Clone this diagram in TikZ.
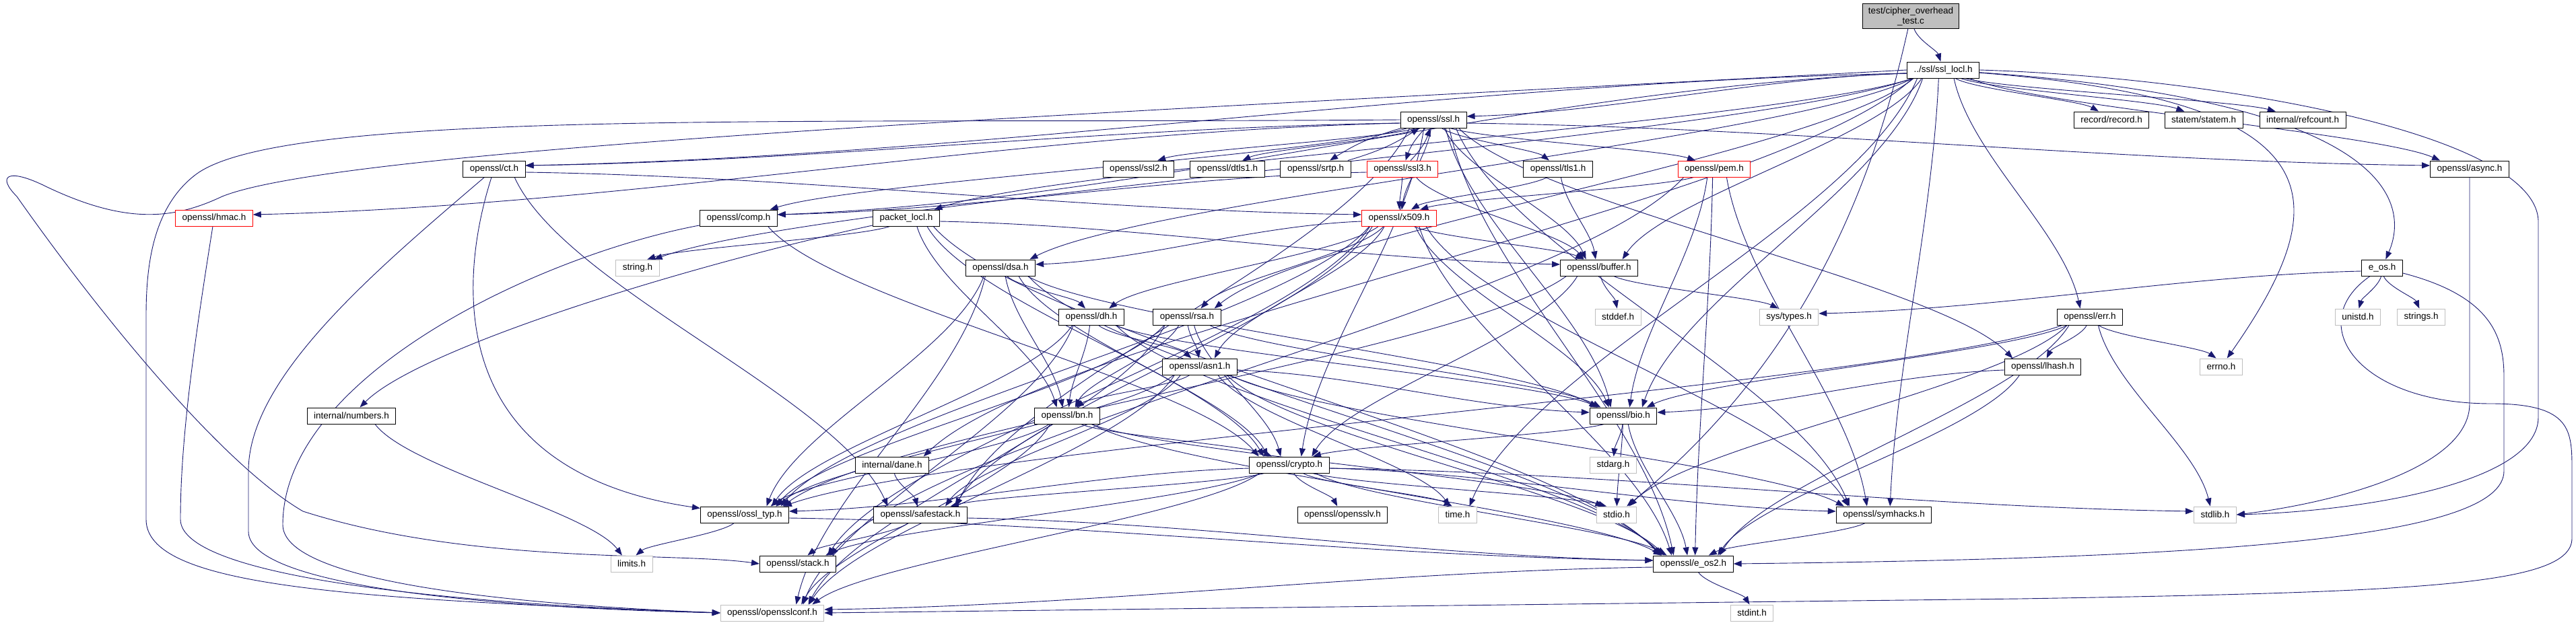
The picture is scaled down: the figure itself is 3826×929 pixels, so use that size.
\documentclass[tikz,border=0pt]{standalone}
\usepackage{fontspec}
\setmainfont{Liberation Sans}
\usetikzlibrary{arrows.meta, backgrounds, calc}
\definecolor{edgeblue}{RGB}{25,25,112}
\definecolor{sysgray}{RGB}{191,191,191}
\definecolor{truncred}{RGB}{255,0,0}

\begin{document}
\begin{tikzpicture}[x=1pt, y=-1pt,
    every node/.style={font=\fontsize{13.5}{15}\selectfont},
    hdr/.style={draw=black, line width=1pt, fill=white, inner xsep=10pt,
                inner ysep=0pt, minimum height=24pt},
    hdrred/.style={hdr, draw=truncred},
    sysh/.style={hdr, draw=sysgray},
    srcfile/.style={hdr, fill=sysgray, align=center, minimum height=37pt,
                    inner xsep=8pt},
    inc/.style={draw=edgeblue, line width=0.9pt,
                -{Triangle[length=12pt, width=9pt]}},
  ]
    \useasboundingbox (0,0) rectangle (3826,929);
    % ranks, top to bottom
    \node[srcfile] (test) at (2838,24) {test/cipher\_overhead\\\_test.c};
    \node[hdr] (ssllocl) at (2886,104) {../ssl/ssl\_locl.h};
    \node[hdr] (ssl) at (2129,178) {openssl/ssl.h};
    \node[hdr] (record) at (3136,178) {record/record.h};
    \node[hdr] (statem) at (3273,178) {statem/statem.h};
    \node[hdr] (refcount) at (3420,178) {internal/refcount.h};
    \node[hdr] (ct) at (734,251) {openssl/ct.h};
    \node[hdr] (ssl2) at (1691,251) {openssl/ssl2.h};
    \node[hdr] (dtls1) at (1823,251) {openssl/dtls1.h};
    \node[hdr] (srtp) at (1954,251) {openssl/srtp.h};
    \node[hdrred] (ssl3) at (2083,251) {openssl/ssl3.h};
    \node[hdr] (tls1) at (2314,251) {openssl/tls1.h};
    \node[hdrred] (pem) at (2546,251) {openssl/pem.h};
    \node[hdr] (async) at (3668,251) {openssl/async.h};
    \node[hdrred] (hmac) at (318,324) {openssl/hmac.h};
    \node[hdr] (comp) at (1097,324) {openssl/comp.h};
    \node[hdr] (packet) at (1346,324) {packet\_locl.h};
    \node[hdrred] (x509) at (2078,324) {openssl/x509.h};
    \node[sysh] (string) at (947,398) {string.h};
    \node[hdr] (dsa) at (1486,398) {openssl/dsa.h};
    \node[hdr] (buffer) at (2375,398) {openssl/buffer.h};
    \node[hdr] (eos) at (3538,398) {e\_os.h};
    \node[hdr] (dh) at (1621,471) {openssl/dh.h};
    \node[hdr] (rsa) at (1763,471) {openssl/rsa.h};
    \node[sysh] (stddef) at (2403,471) {stddef.h};
    \node[sysh] (systypes) at (2657,471) {sys/types.h};
    \node[hdr] (err) at (3104,471) {openssl/err.h};
    \node[sysh] (unistd) at (3502,471) {unistd.h};
    \node[sysh] (strings) at (3596,471) {strings.h};
    \node[hdr] (asn1) at (1782,545) {openssl/asn1.h};
    \node[hdr] (lhash) at (3034,545) {openssl/lhash.h};
    \node[sysh] (errno) at (3299,545) {errno.h};
    \node[hdr] (numbers) at (522,618) {internal/numbers.h};
    \node[hdr] (bn) at (1585,618) {openssl/bn.h};
    \node[hdr] (bio) at (2411,618) {openssl/bio.h};
    \node[hdr] (dane) at (1325,691) {internal/dane.h};
    \node[hdr] (crypto) at (1915,691) {openssl/crypto.h};
    \node[sysh] (stdarg) at (2396,691) {stdarg.h};
    \node[hdr] (ossltyp) at (1106,765) {openssl/ossl\_typ.h};
    \node[hdr] (safestack) at (1367,765) {openssl/safestack.h};
    \node[hdr] (opensslv) at (1994,765) {openssl/opensslv.h};
    \node[sysh] (time) at (2165,765) {time.h};
    \node[sysh] (stdio) at (2401,765) {stdio.h};
    \node[hdr] (symhacks) at (2798,765) {openssl/symhacks.h};
    \node[sysh] (stdlib) at (3290,765) {stdlib.h};
    \node[sysh] (limits) at (938,838) {limits.h};
    \node[hdr] (stack) at (1185,838) {openssl/stack.h};
    \node[hdr] (eos2) at (2515,838) {openssl/e\_os2.h};
    \node[sysh] (opensslconf) at (1147,911) {openssl/opensslconf.h};
    \node[sysh] (stdint) at (2602,911) {stdint.h};

    \begin{scope}[on background layer]
    % plain include edges: bottom to top, or side to side when flat
    \foreach \a/\b in {test/ssllocl,
      ssllocl/ssl, ssllocl/record, ssllocl/statem, ssllocl/refcount,
      ssllocl/async, ssllocl/err, ssllocl/time, ssllocl/string,
      ssllocl/buffer, ssllocl/comp, ssllocl/bio, ssllocl/rsa, ssllocl/dsa,
      ssllocl/symhacks, ssllocl/ct, ssllocl/packet, ssllocl/dane,
      ssl/eos2, ssl/comp, ssl/bio, ssl/x509, ssl/crypto, ssl/lhash,
      ssl/buffer, ssl/pem, ssl/hmac, ssl/async, ssl/safestack, ssl/symhacks,
      ssl/ct, ssl/ssl2, ssl/tls1, ssl/dtls1,
      ssl3/comp, ssl3/buffer, ssl3/x509, tls1/buffer, tls1/x509,
      pem/eos2, pem/bio, pem/x509, pem/symhacks, pem/stack,
      ct/safestack, ct/x509, comp/crypto,
      packet/string, packet/bn, packet/buffer, packet/crypto, packet/eos2,
      x509/eos2, x509/ossltyp, x509/symhacks, x509/buffer, x509/bio,
      x509/stack, x509/asn1, x509/safestack, x509/dsa, x509/dh, x509/rsa,
      dsa/opensslconf, dsa/eos2, dsa/bio, dsa/crypto, dsa/ossltyp, dsa/bn,
      dsa/dh,
      dh/opensslconf, dh/eos2, dh/bio, dh/asn1, dh/ossltyp, dh/bn,
      rsa/opensslconf, rsa/asn1, rsa/bio, rsa/crypto, rsa/ossltyp, rsa/bn,
      asn1/time, asn1/eos2, asn1/opensslconf, asn1/bio, asn1/safestack,
      asn1/symhacks, asn1/ossltyp, asn1/bn,
      bn/eos2, bn/stdio, bn/opensslconf, bn/ossltyp, bn/crypto,
      crypto/stdlib, crypto/time, crypto/eos2, crypto/stdio, crypto/stack,
      crypto/safestack, crypto/opensslv, crypto/ossltyp, crypto/opensslconf,
      crypto/symhacks,
      ossltyp/eos2, ossltyp/limits, safestack/stack, safestack/eos2,
      buffer/ossltyp, buffer/crypto, buffer/stddef, buffer/systypes,
      bio/eos2, bio/stdio, bio/stdarg, bio/crypto,
      err/stdio, err/stdlib, err/eos2, err/ossltyp, err/bio, err/lhash,
      err/errno, lhash/eos2, lhash/bio,
      eos/unistd, eos/strings, eos/systypes,
      eos2/opensslconf, eos2/stdint, dane/safestack, numbers/limits,
      symhacks/eos2}
      \draw[inc] let \p1=(\a.center), \p2=(\b.center),
          \p3=(\a.south east), \p4=(\b.north east),
          \n1={(\x3-\x1-8)*tanh((\x2-\x1)/600)},
          \n2={(\x4-\x2-8)*tanh((\x1-\x2)/600)},
          \n{m}={ifthenelse(abs(\x2-\x1) > 7.5*(\y1-\y2), 1, 0)},
          \n{s}={ifthenelse(\x2 > \x1, 1, -1)},
          \n{sx}={\n{m}*(\x1+\n{s}*(\x3-\x1)) + (1-\n{m})*(\x1+\n1)},
          \n{sy}={\n{m}*(\y1+0.4*(\y3-\y1)) + (1-\n{m})*\y3},
          \n{tx}={\n{m}*(\x2-\n{s}*(\x4-\x2)) + (1-\n{m})*(\x2+\n2)},
          \n{ty}={\n{m}*(\y2+0.4*(\y4-\y2)) + (1-\n{m})*\y4},
          \n{ax}={0.4+0.6*\n{m}}, \n{ay}={1-0.7*\n{m}}
        in ({\n{sx}*1pt},{\n{sy}*1pt})
          .. controls ({(\n{sx}+\n{ax}*(\n{tx}-\n{sx})/3)*1pt},
                       {(\n{sy}+\n{ay}*(\n{ty}-\n{sy})/3)*1pt})
          and ({(\n{tx}-\n{ax}*(\n{tx}-\n{sx})/3)*1pt},
               {(\n{ty}-\n{ay}*(\n{ty}-\n{sy})/3)*1pt})
          .. ({\n{tx}*1pt},{\n{ty}*1pt});
    % mutual includes
    \draw[inc] (ssl) to[bend right=12] (ssl3);
    \draw[inc] (ssl3) to[bend right=12] (ssl);
    \draw[inc] (ssl) to[bend right=8] (srtp);
    \draw[inc] (srtp) to[bend right=8] (ssl);
    % routed edges
    \draw[inc] (test) .. controls (2770,330) and (2650,560) .. (stdio);
    \draw[inc] (ssllocl) .. controls (3480,150) and (3470,300) .. (errno);
    \draw[inc] (ssllocl) .. controls (3550,150) and (3580,300) .. (eos);
    \draw[inc] (ssllocl.east) .. controls (3300,115) and (3770,200)
      .. (3770,330) -- (3770,620) .. controls (3770,720) and (3500,760)
      .. (stdlib.east);
    \draw[inc] (async) -- (3668,600) .. controls (3668,700) and (3450,750)
      .. (stdlib.east);
    \draw[inc] (ssllocl.west) .. controls (1800,160) and (520,215)
      .. (330,292) .. controls (260,325) and (190,335) .. (70,278)
      .. controls (10,248) and (-5,262) .. (25,292)
      .. controls (150,470) and (330,690) .. (450,760)
      .. controls (700,840) and (1000,820) .. (stack.west);
    \draw[inc] (ssl.west) .. controls (1200,185) and (420,160) .. (290,260)
      .. controls (225,310) and (217,400) .. (217,470) -- (217,772)
      .. controls (217,870) and (500,890) .. (opensslconf.west);
    \draw[inc] (hmac) .. controls (290,500) and (268,650) .. (268,772)
      .. controls (268,850) and (600,895) .. (opensslconf.west);
    \draw[inc] (ct) .. controls (560,400) and (369,560) .. (369,700)
      -- (369,790) .. controls (369,880) and (800,905) .. (opensslconf.west);
    \draw[inc] (comp) .. controls (800,380) and (420,560) .. (420,780)
      .. controls (420,870) and (800,900) .. (opensslconf.west);
    \draw[inc] (ct) .. controls (680,420) and (660,700) .. (ossltyp);
    \draw[inc] (packet) .. controls (1000,400) and (620,520) .. (numbers);
    \draw[inc] (eos) .. controls (3420,480) and (3500,600) .. (3700,600)
      .. controls (3820,600) and (3820,640) .. (3820,700) -- (3820,800)
      .. controls (3820,870) and (3600,880) .. (3000,890)
      -- (opensslconf.east);
    \draw[inc] (eos) .. controls (3700,440) and (3719,500) .. (3719,560)
      -- (3719,700) .. controls (3719,800) and (3300,830) .. (eos2.east);
    \end{scope}
\end{tikzpicture}
\end{document}
